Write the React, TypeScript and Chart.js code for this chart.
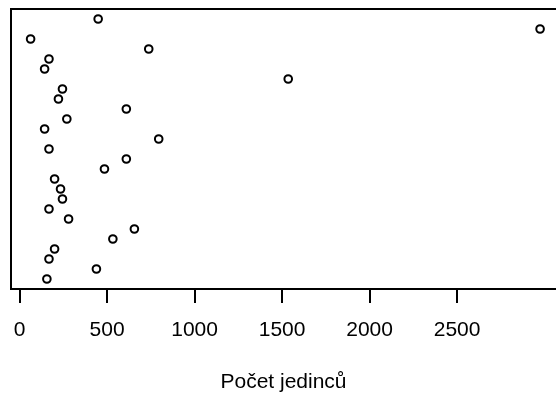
import React, { useEffect, useRef } from "react";
import { Chart, registerables } from "chart.js";

Chart.register(...registerables);

// Counts per row, listed from the top row down to the bottom row
const counts: number[] = [
  449, 2974, 63, 738, 168, 143, 1535, 245, 222, 610, 270, 143, 795, 168,
  610, 485, 200, 234, 245, 168, 280, 656, 533, 200, 168, 439, 156,
];
const xTicks: number[] = [0, 500, 1000, 1500, 2000, 2500];
const xTitle = "Počet jedinců";

const FONT = "'Liberation Sans', Arial, Helvetica, sans-serif";

// Frame on the top, left and bottom sides of the plot area
const framePlugin = {
  id: "frame",
  afterDraw(chart: any) {
    const { ctx, chartArea } = chart;
    ctx.save();
    ctx.strokeStyle = "#000";
    ctx.lineWidth = 2;
    ctx.beginPath();
    ctx.moveTo(chartArea.right + 2, chartArea.top);
    ctx.lineTo(chartArea.left, chartArea.top);
    ctx.lineTo(chartArea.left, chartArea.bottom);
    ctx.lineTo(chartArea.right + 2, chartArea.bottom);
    ctx.stroke();
    ctx.restore();
  },
};

export default function App() {
  const canvasRef = useRef<HTMLCanvasElement | null>(null);

  useEffect(() => {
    if (!canvasRef.current) return;
    const n = counts.length;
    const points = counts.map((v, i) => ({ x: v, y: n - i }));
    const chart = new Chart(canvasRef.current, {
      type: "scatter",
      data: {
        datasets: [
          {
            data: points,
            pointStyle: "circle",
            pointRadius: 3.8,
            pointBorderWidth: 2,
            pointBorderColor: "#000",
            pointBackgroundColor: "rgba(0,0,0,0)",
            borderColor: "#000",
            clip: false,
          },
        ],
      },
      options: {
        responsive: false,
        animation: false,
        layout: { autoPadding: false, padding: { left: 11, top: 9, right: 0, bottom: 0 } },
        plugins: {
          legend: { display: false },
          tooltip: { enabled: false },
        },
        scales: {
          x: {
            type: "linear",
            min: -49,
            max: 3065,
            afterBuildTicks: (scale: any) => {
              scale.ticks = xTicks.map((v) => ({ value: v }));
            },
            afterFit: (scale: any) => {
              scale.height = 106;
              scale.paddingLeft = 0;
              scale.paddingRight = 0;
            },
            border: { display: false },
            grid: {
              display: true,
              drawOnChartArea: false,
              drawTicks: true,
              tickLength: 14,
              tickWidth: 2,
              tickColor: "#000",
              color: "#000",
              lineWidth: 2,
            },
            ticks: {
              color: "#000",
              padding: 15,
              maxRotation: 0,
              autoSkip: false,
              font: { family: FONT, size: 21 },
              callback: (v: any) => String(v),
            },
            title: {
              display: true,
              text: xTitle,
              color: "#000",
              font: { family: FONT, size: 21 },
              padding: { top: 0, bottom: 0 },
            },
          },
          y: {
            type: "linear",
            display: false,
            min: 0,
            max: n + 1,
          },
        },
      },
      plugins: [framePlugin],
    });
    return () => chart.destroy();
  }, []);

  return (
    <div style={{ position: "fixed", left: 0, top: 0, width: 556, height: 395, background: "#fff" }}>
      <canvas ref={canvasRef} width={556} height={395} style={{ display: "block" }} />
    </div>
  );
}
